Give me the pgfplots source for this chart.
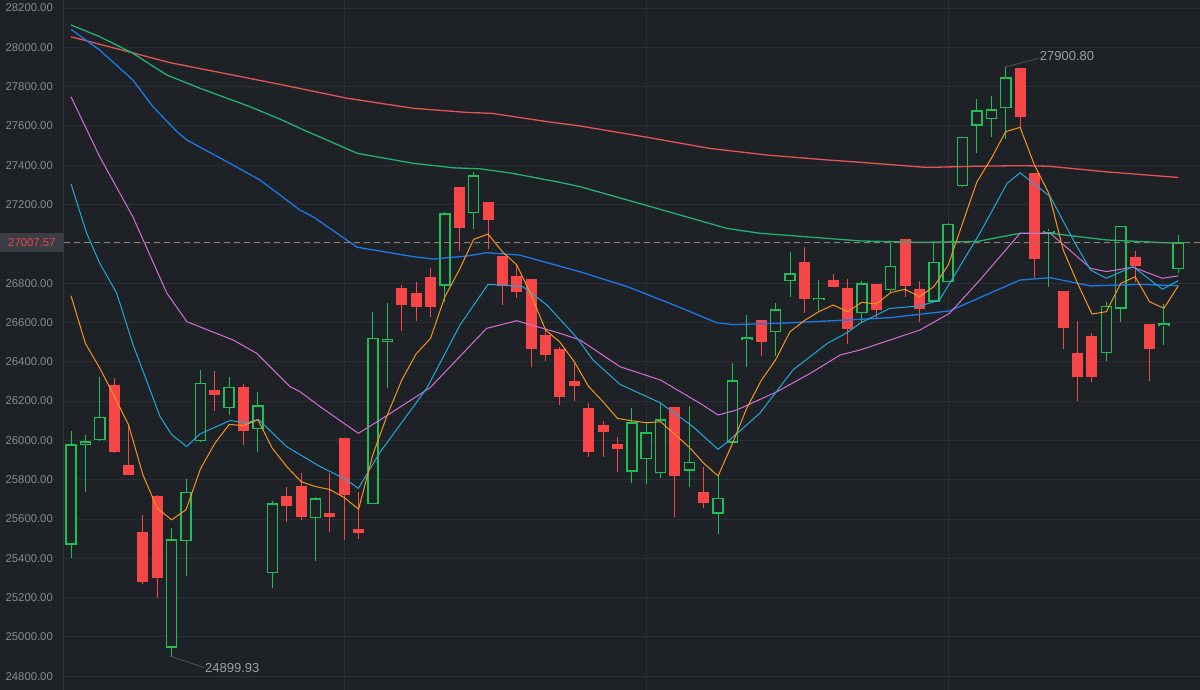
\documentclass[border=0pt]{standalone}
\usepackage{fontspec}
\setmainfont{Liberation Sans}
\usepackage{pgfplots}
\usepackage{pgfplotstable}
\pgfplotsset{compat=1.18}
\definecolor{bg}{RGB}{30,33,37}
\definecolor{gridc}{RGB}{42,46,51}
\definecolor{axc}{RGB}{52,56,61}
\definecolor{tickc}{RGB}{135,140,146}
\definecolor{upc}{RGB}{31,190,85}
\definecolor{dnc}{RGB}{246,70,72}
\definecolor{dashc}{RGB}{140,127,112}
\definecolor{boxc}{RGB}{58,62,68}
\definecolor{boxtxt}{RGB}{232,72,72}
\definecolor{annc}{RGB}{154,160,166}
\definecolor{annl}{RGB}{80,85,92}
\definecolor{maorange}{RGB}{245,150,30}
\definecolor{macyan}{RGB}{30,170,220}
\definecolor{mapink}{RGB}{214,112,214}
\definecolor{mablue}{RGB}{28,122,232}
\definecolor{magreen}{RGB}{30,180,110}
\definecolor{mared}{RGB}{228,84,84}

\pgfplotstableread{
i o h l c
0 25469 26046 25401 25981
1 25978 26029 25740 25995
2 26000 26323 25995 26121
7 24946 25553 24899.93 25497
8 25486 25803 25312 25739
9 25995 26360 25990 26292
11 26165 26323 26130 26272
13 26058 26246 25939 26180
14 25324 25693 25248 25681
17 25604 25714 25385 25706
21 25675 26655 25675 26523
22 26501 26698 26268 26514
26 26786 27164 26706 27155
28 27155 27367 27074 27350
39 25841 26163 25782 26092
40 25904 26090 25777 26041
41 25833 26192 25811 26107
43 25846 26177 25761 25892
45 25626 25819 25522 25709
46 25989 26396 25989 26307
47 26511 26638 26375 26525
49 26550 26697 26430 26667
50 26809 26957 26728 26850
52 26713 26816 26658 26725
55 26647 26811 26596 26799
57 26765 27003 26757 26889
60 26706 27006 26706 26908
61 26804 27108 26804 27103
62 27294 27545 27291 27545
63 27600 27735 27464 27679
64 27635 27752 27545 27684
65 27690 27900.80 27532 27847
68 27057 27076 26782 27067
72 26443 26703 26404 26684
73 26669 27093 26604 27093
76 26582 26694 26486 26596
77 26872 27045 26850 27007.57
}\upcandles

\pgfplotstableread{
i o h l c
3 26284 26318 25935 25939
4 25873 26080 25825 25825
5 25536 25618 25268 25278
6 25715 25723 25197 25302
10 26258 26351 26151 26229
12 26272 26287 25978 26046
15 25715 25762 25584 25664
16 25768 25833 25595 25612
18 25629 25833 25536 25612
19 26011 26011 25494 25722
20 25548 25739 25497 25527
23 26774 26791 26558 26689
24 26748 26808 26609 26677
25 26833 26876 26630 26677
27 27288 27288 26965 27083
29 27211 27211 26974 27121
30 26940 26940 26689 26787
31 26838 26893 26726 26753
32 26821 26821 26372 26465
33 26536 26562 26406 26435
34 26465 26477 26180 26219
35 26304 26396 26202 26279
36 26163 26189 25917 25943
37 26077 26101 25917 26041
38 25980 26016 25841 25955
42 26168 26168 25609 25819
44 25736 25867 25655 25680
48 26613 26613 26431 26499
51 26910 26982 26647 26718
53 26816 26847 26779 26779
54 26774 26821 26491 26567
56 26794 26794 26616 26664
58 27026 27026 26728 26787
59 26769 26813 26604 26670
66 27893 27893 27593 27647
67 27362 27362 26828 26921
69 26762 26762 26463 26570
70 26443 26608 26202 26321
71 26531 26545 26299 26321
74 26935 26964 26804 26889
75 26591 26591 26304 26463
}\downcandles

\begin{document}
\begin{tikzpicture}
\fill[bg] (-64pt,0pt) rectangle (1136pt,690pt);
\useasboundingbox (-64pt,0pt) rectangle (1136pt,690pt);
\begin{axis}[
  at={(0pt,0pt)}, anchor=south west,
  scale only axis, width=1136pt, height=690pt,
  xmin=-0.487, xmax=78.51, ymin=24730, ymax=28241,
  axis line style={draw=none},
  clip mode=individual,
  xtick=\empty,
  ytick={24800,25000,25200,25400,25600,25800,26000,26200,26400,26600,26800,27200,27400,27600,27800,28000,28200},
  scaled y ticks=false,
  ymajorgrids,
  major grid style={draw=gridc, line width=1pt},
  major tick length=0pt,
  tick style={draw=none},
  /pgf/number format/assume math mode=true,
  yticklabel={\pgfmathprintnumber[fixed,fixed zerofill,precision=2,1000 sep={}]{\tick}},
  yticklabel style={anchor=east, inner sep=0pt, xshift=-11pt, text=tickc, font=\fontsize{11.3}{13}\selectfont},
]
% grid lines not tied to labels
\addplot[gridc, line width=1pt] coordinates {(-0.487,27000) (78.51,27000)};
\addplot[gridc, line width=1pt] coordinates {(19,24730) (19,28241)};
\addplot[gridc, line width=1pt] coordinates {(40,24730) (40,28241)};
\addplot[gridc, line width=1pt] coordinates {(61,24730) (61,28241)};
% wicks
\addplot[draw=upc, line width=1pt, quiver={u=0, v=\thisrow{h}-\thisrow{l}}] table[x=i, y=l] {\upcandles};
\addplot[draw=dnc, line width=1pt, quiver={u=0, v=\thisrow{h}-\thisrow{l}}] table[x=i, y=l] {\downcandles};
% bodies
\addplot[draw=dnc, line width=11pt, quiver={u=0, v=\thisrow{c}-\thisrow{o}}] table[x=i, y=o] {\downcandles};
\addplot[draw=upc, line width=11.6pt, quiver={u=0, v=\thisrow{c}-\thisrow{o}}] table[x=i, y=o] {\upcandles};
\addplot[draw=bg, line width=8.6pt, quiver={u=0, v=\thisrow{c}-\thisrow{o}-15}] table[x=i, y expr=\thisrow{o}+7.5] {\upcandles};

% MA lines
\addplot[mared, line width=1.3pt] coordinates {
(0,28054) (6.9,27922) (14.5,27812) (19.2,27741) (23.8,27690) (27.5,27669) (29.3,27664) (33.1,27622) (35.4,27600) (40.1,27542) (44.4,27486) (48.4,27452) (52.6,27427) (54.9,27415) (59.5,27389) (63,27395) (66,27398) (68,27395) (72.1,27366) (77,27338)};
\addplot[magreen, line width=1.3pt] coordinates {
(0,28114) (2,28054) (4.3,27970) (6.67,27859) (9,27791) (12.45,27698) (14.53,27635) (15.92,27588) (19.9,27461) (23.8,27410) (26.6,27387) (28.44,27382) (30.7,27359) (34,27313) (35.4,27291) (40.1,27194) (45.6,27079) (47.9,27054) (52.6,27028) (54.87,27015) (59,27008) (63,27012) (66,27054) (68.1,27054) (72,27020) (77,27003)};
\addplot[mablue, line width=1.3pt] coordinates {
(0,28092) (2,27986) (4.3,27834) (5.7,27698) (7.37,27571) (8.07,27528) (11.27,27401) (13.14,27325) (14.53,27249) (15.92,27172) (16.83,27138) (19.9,26983) (23.8,26935) (25.18,26923) (27.5,26938) (28.9,26955) (31.2,26943) (35.4,26858) (38.7,26782) (42.1,26684) (44.9,26599) (46,26589) (50.2,26599) (54.87,26616) (57,26625) (61.1,26659) (66,26816) (68.1,26828) (70.9,26786) (74.3,26794) (77,26787)};
\addplot[mapink, line width=1pt] coordinates {
(0,27749) (2,27443) (4.3,27138) (6.67,26749) (8.06,26604) (11.27,26511) (12.92,26443) (15.22,26274) (15.92,26248) (17.32,26172) (19.98,26036) (21.49,26104) (24.97,26268) (28.9,26570) (31,26609) (34,26545) (35.4,26511) (38.18,26375) (41,26307) (43.74,26189) (45,26129) (46.3,26155) (49.1,26248) (51.4,26341) (53.5,26435) (54.87,26460) (59.04,26562) (61.1,26647) (63.2,26816) (66,27054) (68.1,27054) (70.9,26876) (72,26859) (73.85,26881) (75.9,26825) (77,26837)};
\addplot[macyan, line width=1pt] coordinates {
(0,27305) (1.09,27054) (2,26901) (3.18,26749) (3.99,26562) (4.32,26486) (6.19,26122) (7,26029) (8.05,25969) (8.97,26033) (11.06,26101) (12.22,26090) (13.03,26107) (15,25968) (17.32,25867) (19.17,25799) (19.98,25756) (21.49,25940) (24.74,26265) (27.05,26587) (29,26794) (30.3,26789) (31.43,26782) (33.1,26689) (34.9,26545) (35.3,26511) (36.3,26409) (38.18,26285) (40.96,26192) (43.25,26070) (44.99,25955) (45.6,25989) (47.9,26138) (50.2,26358) (52.6,26494) (53.96,26548) (54.87,26596) (56.95,26672) (59.04,26684) (60.4,26714) (61.1,26799) (63.2,27054) (65.1,27308) (66,27362) (68.1,27240) (69.7,27020) (70.9,26867) (72,26825) (73.85,26884) (75.9,26769) (77,26813)};
\addplot[maorange, line width=1pt] coordinates {
(0,26736) (1,26494) (2,26368) (3,26226) (4,26080) (5,25825) (6,25655) (7,25596) (8,25647) (9,25855) (10,25985) (11,26081) (12,26076) (13,26105) (14,25960) (15,25867) (16,25790) (17,25765) (18,25750) (19,25709) (20,25650) (21,25930) (22,26130) (23,26307) (24,26440) (25,26519) (26,26731) (27,26867) (28,27023) (29,27050) (30,26960) (31,26893) (32,26740) (33,26562) (34,26500) (35,26400) (36,26274) (37,26197) (38,26112) (39,26100) (40,26090) (41,26095) (42,26030) (43,25965) (44,25884) (45,25819) (46,25985) (47,26165) (48,26305) (49,26410) (50,26553) (51,26610) (52,26655) (53,26689) (54,26655) (55,26703) (56,26694) (57,26752) (58,26769) (59,26731) (60,26782) (61,26892) (62,27105) (63,27316) (64,27435) (65,27571) (66,27593) (67,27401) (68,27257) (69,26969) (70,26799) (71,26643) (72,26655) (73,26799) (74,26833) (75,26706) (76,26672) (77,26786)};

% last price line
\addplot[dashc, line width=1.2pt, dash pattern=on 6pt off 4pt] coordinates {(-0.487,27007.57) (78.51,27007.57)};

% left border
\draw[axc, line width=1pt] (rel axis cs:0,0) -- (rel axis cs:0,1);

% annotations
\draw[annl, line width=0.8pt] (axis cs:7,24899.93) -- (axis cs:9.25,24844);
\node[anchor=west, inner sep=1pt, text=annc, font=\fontsize{13}{15}\selectfont] at (axis cs:9.25,24844) {24899.93};
\draw[annl, line width=0.8pt] (axis cs:65,27900.80) -- (axis cs:67.3,27944);
\node[anchor=west, inner sep=1pt, text=annc, font=\fontsize{13}{15}\selectfont] at (axis cs:67.3,27956) {27900.80};
\coordinate (lastp) at (axis cs:0,27007.57);
\end{axis}
\node[anchor=east, fill=boxc, minimum width=64pt, minimum height=19.3pt, inner sep=0pt, text=boxtxt, font=\fontsize{11.3}{13}\selectfont] at (0pt,0pt |- lastp) {27007.57};
\end{tikzpicture}
\end{document}
